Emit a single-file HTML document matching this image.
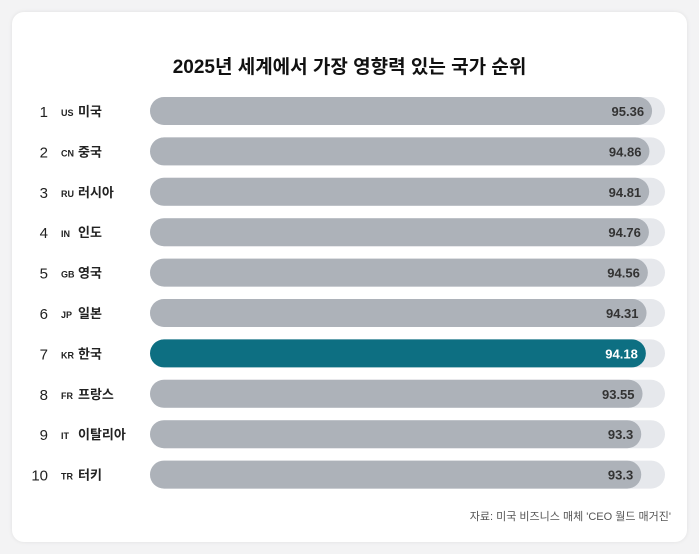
<!DOCTYPE html>
<html><head><meta charset="utf-8"><style>
body{margin:0;background:#f3f3f4;width:699px;height:554px;overflow:hidden;font-family:"Liberation Sans","Noto Sans CJK KR",sans-serif;}
#card{position:absolute;left:12px;top:12px;width:675px;height:530px;background:#fff;border-radius:12px;box-shadow:0 0 4px rgba(0,0,0,0.08);}
#title{position:absolute;left:0;width:699px;top:52px;text-align:center;font-size:19px;font-weight:bold;color:#111;}
#src{position:absolute;right:28px;top:508px;font-size:11px;color:#555;}
</style></head><body>
<div id="card"></div>
<div id="title">2025년 세계에서 가장 영향력 있는 국가 순위</div>
<svg id="chart" width="699" height="554" style="position:absolute;left:0;top:0"></svg>
<div id="src">자료: 미국 비즈니스 매체 'CEO 월드 매거진'</div>
<script>
const codes=["US","CN","RU","IN","GB","JP","KR","FR","IT","TR"];
const countries=["미국","중국","러시아","인도","영국","일본","한국","프랑스","이탈리아","터키"];
const values=[95.36,94.86,94.81,94.76,94.56,94.31,94.18,93.55,93.3,93.3];
const labels=["95.36","94.86","94.81","94.76","94.56","94.31","94.18","93.55","93.3","93.3"];
const highlight="KR";
const NS="http://www.w3.org/2000/svg";
const svg=document.getElementById('chart');
const x0=150,trackW=515,pxPer=5.265;
const xw=v=>v*pxPer;
const yc=i=>111+i*40.4;
function mk(t,a){const e=document.createElementNS(NS,t);for(const k in a)e.setAttribute(k,a[k]);svg.appendChild(e);return e;}
values.forEach((v,i)=>{
  const y=yc(i),hl=codes[i]===highlight;
  const tr=mk('rect',{x:x0,y:y-14,width:trackW,height:28,rx:14,fill:'#e6e8ec'});
  
  
  const b=mk('rect',{x:x0,y:y-14,width:xw(v),height:28,rx:14,fill:hl?'#0d6f82':'#adb2b9'});
  
  
  const vl=mk('text',{x:x0+xw(v)-8,y:y+5,'text-anchor':'end','font-size':13,'font-weight':'bold',fill:hl?'#fff':'#333'});
  vl.textContent=labels[i];
  
  
  const rk=mk('text',{x:48,y:y+6,'text-anchor':'end','font-size':15,fill:'#222'});
  rk.textContent=String(i+1);
  
  
  const cd=mk('text',{x:61,y:y+5,'font-size':9,'font-weight':'bold',fill:'#222'});
  cd.textContent=codes[i];
  
  
  const cn=mk('text',{x:61+codes[i].length*7+3,y:y+5,'font-size':13,'font-weight':'bold',fill:'#222'});
  cn.textContent=countries[i];
  
  
});
</script>
</body></html>
